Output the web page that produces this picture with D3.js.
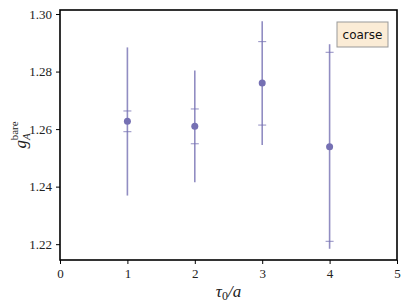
<!DOCTYPE html>
<html>
<head>
<meta charset="utf-8">
<script src="https://cdn.jsdelivr.net/npm/d3@7"></script>
<style>
  body { margin: 0; background: #fff; }
</style>
</head>
<body>
<div id="chart"></div>
<script>
// tau0/a values and g_A^bare estimates
const tau = [1, 2, 3, 4];
const gA = [1.2627, 1.2610, 1.2760, 1.2539];
// statistical error (inner caps) and total error (outer bar)
const statLo = [1.2591, 1.2549, 1.2614, 1.2210];
const statHi = [1.2663, 1.2670, 1.2904, 1.2867];
const totLo = [1.2369, 1.2415, 1.2545, 1.2184];
const totHi = [1.2884, 1.2804, 1.2975, 1.2895];
const xTicks = [0, 1, 2, 3, 4, 5];
const yTicks = [1.22, 1.24, 1.26, 1.28, 1.30];

const width = 407, height = 307;
const margin = {top: 10, right: 10, bottom: 47, left: 60};
const color = "#7570b3";

const svg = d3.select("#chart").append("svg")
  .attr("width", width)
  .attr("height", height);

const x = d3.scaleLinear().domain([0, 5]).range([margin.left, width - margin.right]);
const y = d3.scaleLinear().domain([1.2145, 1.3014]).range([height - margin.bottom, margin.top]);

const styleAxis = g => {
  g.attr("font-family", "Liberation Serif, serif").attr("font-size", 13);
  g.select(".domain").remove();
  g.selectAll(".tick text").attr("fill", "#222");
};

svg.append("g")
  .attr("transform", `translate(0,${height - margin.bottom})`)
  .call(d3.axisBottom(x).tickValues(xTicks).tickFormat(d3.format("d")).tickSizeOuter(0).tickSize(4).tickPadding(5))
  .call(styleAxis);

svg.append("g")
  .attr("transform", `translate(${margin.left},0)`)
  .call(d3.axisLeft(y).tickValues(yTicks).tickFormat(d3.format(".2f")).tickSizeOuter(0).tickSize(4).tickPadding(4))
  .call(styleAxis);

// frame
svg.append("rect")
  .attr("x", margin.left)
  .attr("y", margin.top)
  .attr("width", width - margin.left - margin.right)
  .attr("height", height - margin.top - margin.bottom)
  .attr("fill", "none")
  .attr("stroke", "#000")
  .attr("stroke-width", 1.6);

const pts = svg.append("g").selectAll("g")
  .data(tau.map((t, i) => ({t, v: gA[i], sl: statLo[i], sh: statHi[i], tl: totLo[i], th: totHi[i]})))
  .join("g");

pts.append("line")
  .attr("x1", d => x(d.t)).attr("x2", d => x(d.t))
  .attr("y1", d => y(d.tl)).attr("y2", d => y(d.th))
  .attr("stroke", color).attr("stroke-opacity", 0.8).attr("stroke-width", 1.6);

const capW = 4;
["sl", "sh"].forEach(k => {
  pts.append("line")
    .attr("x1", d => x(d.t) - capW).attr("x2", d => x(d.t) + capW)
    .attr("y1", d => y(d[k])).attr("y2", d => y(d[k]))
    .attr("stroke", color).attr("stroke-opacity", 0.8).attr("stroke-width", 1);
});

pts.append("circle")
  .attr("cx", d => x(d.t)).attr("cy", d => y(d.v))
  .attr("r", 3.5)
  .attr("fill", color);

// legend box
const lg = svg.append("g").attr("transform", "translate(337,22)");
lg.append("rect")
  .attr("width", 51).attr("height", 25)
  .attr("fill", "#fbecd6").attr("stroke", "#999").attr("stroke-width", 1);
lg.append("text")
  .attr("x", 25.5).attr("y", 17)
  .attr("text-anchor", "middle")
  .attr("font-family", "DejaVu Sans, sans-serif")
  .attr("font-size", 12)
  .attr("fill", "#111")
  .text("coarse");

// axis labels
const xl = svg.append("text")
  .attr("x", (margin.left + width - margin.right) / 2)
  .attr("y", 297)
  .attr("text-anchor", "middle")
  .attr("font-family", "Liberation Serif, serif")
  .attr("font-size", 17)
  .attr("fill", "#222");
xl.append("tspan").attr("font-style", "italic").text("τ");
xl.append("tspan").attr("font-size", 12).attr("dy", 3).text("0");
xl.append("tspan").attr("dy", -3).attr("font-style", "italic").text("/a");

const yl = svg.append("text")
  .attr("transform", `translate(26,${(margin.top + height - margin.bottom) / 2}) rotate(-90)`)
  .attr("text-anchor", "middle")
  .attr("font-family", "Liberation Serif, serif")
  .attr("font-size", 17)
  .attr("fill", "#222");
yl.append("tspan").attr("font-style", "italic").text("g");
yl.append("tspan").attr("font-size", 11).attr("font-style", "italic").attr("dy", 4).attr("dx", 0).text("A");
yl.append("tspan").attr("font-size", 11).attr("dy", -12).attr("dx", -7).text("bare");
</script>
</body>
</html>
